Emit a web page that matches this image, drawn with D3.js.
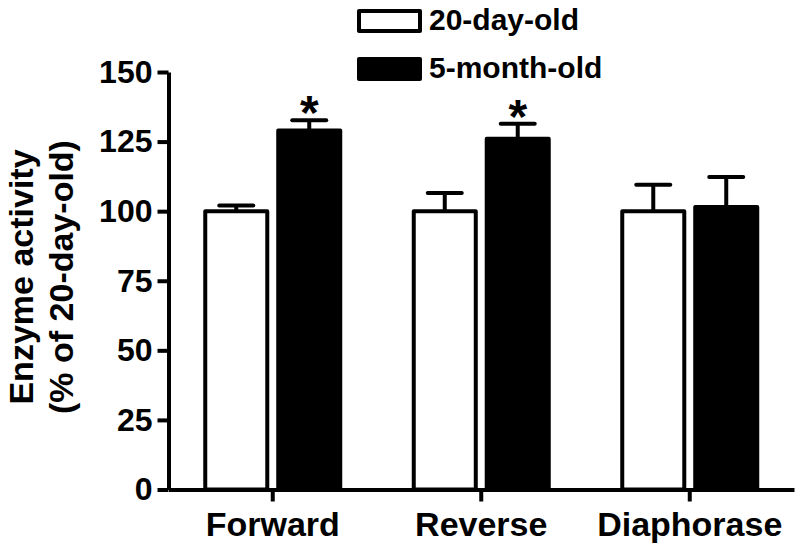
<!DOCTYPE html>
<meta charset="utf-8">
<script src="https://d3js.org/d3.v7.min.js"></script>
<style>
body { margin: 0; background: #fff; }
text { font-family: "Liberation Sans", Arial, sans-serif; font-weight: bold; fill: #000; }
</style>
<div id="chart"></div>
<script>

// data
var categories = ["Forward", "Reverse", "Diaphorase"];
var series = ["20-day-old", "5-month-old"];
var youngMean = [100, 100, 100];
var youngErr = [2, 6.5, 9.5];
var oldMean = [129, 126, 101.5];
var oldErr = [3.7, 5.4, 10.8];
var significant = [true, true, false];
var yTicks = [0, 25, 50, 75, 100, 125, 150];

var W = 800, H = 550;
var margin = {top: 72, right: 6, bottom: 60.5, left: 168.5};
var width = W - margin.left - margin.right,
    height = H - margin.top - margin.bottom;

var svg = d3.select("#chart").append("svg")
    .attr("width", W).attr("height", H)
  .append("g")
    .attr("transform", "translate(" + margin.left + "," + margin.top + ")");

var x0 = d3.scaleBand().domain(categories).range([0, width]).padding(0);
var x1 = d3.scaleBand().domain(series).range([-67.5, 67.5]).paddingInner(0.15).paddingOuter(0);
var y = d3.scaleLinear().domain([0, 150]).range([height, 0]);

var rows = categories.map(function(c, i) {
  return [
    {cat: c, s: series[0], v: youngMean[i], e: youngErr[i], fill: "#fff"},
    {cat: c, s: series[1], v: oldMean[i], e: oldErr[i], fill: "#000", star: significant[i]}
  ];
});
var bars = rows.flat();

var cx = function(d) { return x0(d.cat) + x0.bandwidth() / 2 + x1(d.s) + x1.bandwidth() / 2; };

// error bars (upper only)
svg.append("g").selectAll("line.err")
  .data(bars).enter().append("line")
    .attr("x1", cx).attr("x2", cx)
    .attr("y1", function(d) { return y(d.v); })
    .attr("y2", function(d) { return y(d.v + d.e); })
    .attr("stroke", "#000").attr("stroke-width", 4);
svg.append("g").selectAll("line.cap")
  .data(bars).enter().append("line")
    .attr("x1", function(d) { return cx(d) - 17; })
    .attr("x2", function(d) { return cx(d) + 17; })
    .attr("y1", function(d) { return y(d.v + d.e); })
    .attr("y2", function(d) { return y(d.v + d.e); })
    .attr("stroke", "#000").attr("stroke-width", 4).attr("stroke-linecap", "round");

// bars
svg.append("g").selectAll("rect")
  .data(bars).enter().append("rect")
    .attr("x", function(d) { return x0(d.cat) + x0.bandwidth() / 2 + x1(d.s); })
    .attr("width", x1.bandwidth())
    .attr("y", function(d) { return y(d.v); })
    .attr("height", function(d) { return y(0) - y(d.v); })
    .attr("fill", function(d) { return d.fill; })
    .attr("stroke", "#000").attr("stroke-width", 4).attr("stroke-linejoin", "round");

// asterisks
svg.append("g").selectAll("text")
  .data(bars.filter(function(d) { return d.star; })).enter().append("text")
    .attr("x", cx)
    .attr("y", function(d) { return y(d.v + d.e) + 9; })
    .attr("text-anchor", "middle")
    .style("font-size", "48px")
    .text("*");

// axes
var yAxis = svg.append("g")
  .call(d3.axisLeft(y).tickValues(yTicks).tickSize(11).tickSizeOuter(0).tickPadding(5));
var xAxis = svg.append("g")
  .attr("transform", "translate(0," + height + ")")
  .call(d3.axisBottom(x0).tickSize(12).tickSizeOuter(0).tickPadding(10));
[yAxis, xAxis].forEach(function(a) {
  a.selectAll("path, line").attr("stroke", "#000").attr("stroke-width", 4);
  a.selectAll("text").attr("fill", "#000");
});
yAxis.selectAll("text").style("font-size", "32px");
xAxis.selectAll("text").style("font-size", "34px");

// y title
var title = svg.append("text")
  .attr("transform", "translate(" + (33 - margin.left) + "," + (277 - margin.top) + ") rotate(-90)")
  .attr("text-anchor", "middle")
  .style("font-size", "34px");
title.append("tspan").attr("x", 0).attr("y", 0).text("Enzyme activity");
title.append("tspan").attr("x", 0).attr("y", 40).text("(% of 20-day-old)");

// legend
var legend = svg.append("g")
  .attr("transform", "translate(" + (359 - margin.left) + "," + (11 - margin.top) + ")");
var items = legend.selectAll("g").data(series).enter().append("g")
  .attr("transform", function(d, i) { return "translate(0," + (i * 48) + ")"; });
items.append("rect")
  .attr("width", 61).attr("height", 20)
  .attr("fill", function(d, i) { return i === 0 ? "#fff" : "#000"; })
  .attr("stroke", "#000").attr("stroke-width", 4).attr("stroke-linejoin", "round");
items.append("text")
  .attr("x", 70).attr("y", 19)
  .style("font-size", "30px")
  .text(function(d) { return d; });

</script>
